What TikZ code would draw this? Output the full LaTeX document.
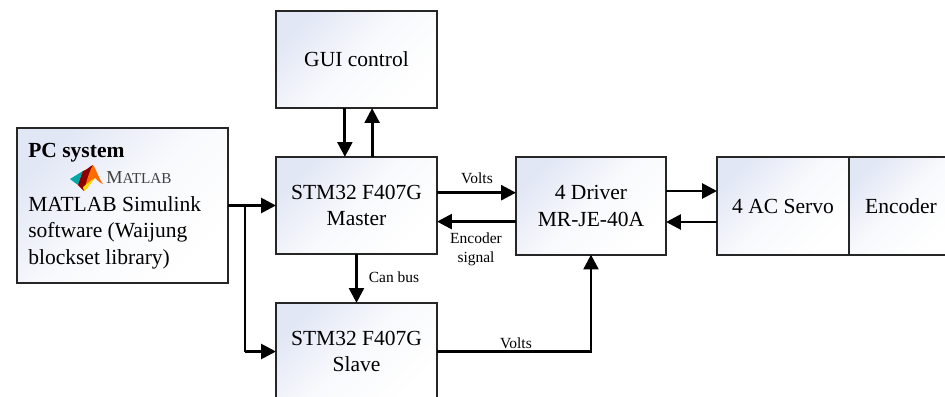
\documentclass[tikz,border=0pt]{standalone}
\usepackage{fontspec}
\setmainfont{Liberation Serif}
\usetikzlibrary{arrows.meta}
\definecolor{boxtint}{RGB}{226,231,245}
\tikzset{
	blockbox/.style={draw=black!85, line width=1.5pt, outer sep=0pt, inner sep=0pt, align=center,
		top color=boxtint, bottom color=white, middle color=boxtint!22!white, shading angle=45,
		minimum width=4.025cm, minimum height=2.43cm, font=\fontsize{15.3}{18.8}\selectfont},
	signal/.style={line width=2pt, black, -{Triangle[length=10.5pt,width=10.5pt]}},
	branch/.style={line width=2pt, black},
	smalltext/.style={inner sep=0pt, align=center, font=\fontsize{11}{13.2}\selectfont},
	pctext/.style={inner sep=0pt, anchor=west, align=left, font=\fontsize{15.3}{18.8}\selectfont}
}
\begin{document}
\begin{tikzpicture}[x=0.025cm,y=-0.025cm]
	\path[use as bounding box, clip] (0,0) rectangle (945,396);

	% blocks
	\node[blockbox, minimum width=5.275cm, minimum height=3.875cm] (pc) at (122.5,205.5) {};
	\node[blockbox] (gui) at (356.5,59.5) {GUI control};
	\node[blockbox] (master) at (356.5,205.5) {STM32 F407G\\Master};
	\node[blockbox] (slave) at (356.5,351.5) {STM32 F407G\\Slave};
	\node[blockbox, minimum width=3.75cm] (driver) at (591,206) {4 Driver\\MR-JE-40A};
	\node[blockbox, minimum width=3.3cm] (servo) at (783,206) {4 AC Servo};
	\node[blockbox, minimum width=2.6cm, anchor=west] (encoder) at (servo.east) {Encoder};

	% PC system text
	\node[pctext, font=\fontsize{15.3}{18.8}\selectfont\bfseries] (pctitle) at (28,152.5) {PC system};
	\node[pctext] (pcsoft) at (28,232.5) {MATLAB Simulink\\software (Waijung\\blockset library)};

	% MATLAB logo
	\fill[teal!70!cyan] (70,179) -- (83,171) -- (87,175) -- (78,185) -- cycle;
	\fill[red!55!black] (83,171) .. controls (87,170) and (90,166) .. (93,165) -- (90,178) -- (84,191) -- (78,185) -- cycle;
	\fill[orange!85!red] (93,165) .. controls (96,169) and (99,179) .. (103,184) .. controls (100,183) and (97,180) .. (95,178) .. controls (91,182) and (88,188) .. (84,191) .. controls (86,183) and (89,172) .. (93,165) -- cycle;
	\fill[yellow!80!orange] (95,178) .. controls (91,182) and (88,188) .. (84,191) -- (83,187) .. controls (87,184) and (91,180) .. (95,178) -- cycle;
	\node[inner sep=0pt, anchor=west, text=black!75] (matlabname) at (106,178) {\fontsize{13}{14}\selectfont M\fontsize{10.8}{14}\selectfont ATLAB};

	% connections
	\draw[signal] (pc.east |- master.west) -- (master.west);
	\coordinate (split) at (245,205.5);
	\draw[branch] (split) -- (split |- slave.west);
	\draw[signal] (split |- slave.west) -- (slave.west);
	\draw[signal] ([xshift=-0.29cm]gui.south) -- ([xshift=-0.29cm]master.north);
	\draw[signal] ([xshift=0.39cm]master.north) -- ([xshift=0.39cm]gui.south);
	\draw[signal] ([yshift=0.32cm]master.east) -- ([yshift=0.32cm]master.east -| driver.west);
	\draw[signal] ([yshift=-0.39cm]driver.west) -- ([yshift=-0.39cm]driver.west -| master.east);
	\draw[signal] ([yshift=0.375cm]driver.east) -- ([yshift=0.375cm]driver.east -| servo.west);
	\draw[signal] ([yshift=-0.4cm]servo.west) -- ([yshift=-0.4cm]servo.west -| driver.east);
	\draw[signal] (master.south) -- (slave.north);
	\draw[signal] (slave.east) -| (driver.south);

	% labels
	\node[smalltext] (voltsup) at (477,178) {Volts};
	\node[smalltext] (encsignal) at (476,249.5) {Encoder\\signal};
	\node[smalltext] (canbus) at (394,277) {Can bus};
	\node[smalltext] (voltsdown) at (516,343) {Volts};
\end{tikzpicture}
\end{document}
